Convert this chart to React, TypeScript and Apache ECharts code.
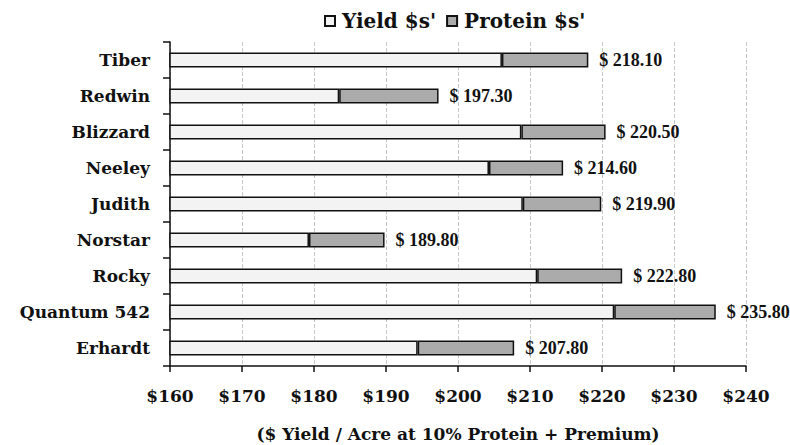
import React, { useEffect, useRef } from "react";
import * as echarts from "echarts";

const categories = ["Tiber", "Redwin", "Blizzard", "Neeley", "Judith", "Norstar", "Rocky", "Quantum 542", "Erhardt"];
const yieldValues = [206.1, 183.5, 208.8, 204.3, 209.0, 179.3, 211.0, 221.7, 194.4];
const totalValues = [218.1, 197.3, 220.5, 214.6, 219.9, 189.8, 222.8, 235.8, 207.8];
const xTicks = [160, 170, 180, 190, 200, 210, 220, 230, 240];

const FONT = "DejaVu Serif";
const LABEL_FONT = "Liberation Serif";

export default function App() {
  const ref = useRef<HTMLDivElement>(null);
  useEffect(() => {
    if (!ref.current) return;
    const chart = echarts.init(ref.current, null, { renderer: "svg" });
    const proteinValues = totalValues.map((t, i) => +(t - yieldValues[i]).toFixed(2));
    chart.setOption({
      animation: false,
      backgroundColor: "#fff",
      legend: {
        left: 319,
        top: 6,
        itemWidth: 10,
        itemHeight: 10,
        itemGap: 10,
        icon: "rect",
        textStyle: { fontFamily: FONT, fontWeight: "bold", fontSize: 20, color: "#111", padding: [0, 0, 0, 2] },
        data: ["Yield $s'", "Protein $s'"],
      },
      grid: { left: 170, right: 44, top: 42, bottom: 79, containLabel: false, outerBoundsMode: "none" },
      xAxis: {
        type: "value",
        min: xTicks[0],
        max: xTicks[xTicks.length - 1],
        interval: 10,
        name: "($ Yield / Acre at 10% Protein + Premium)",
        nameLocation: "middle",
        nameGap: 59,
        nameTextStyle: { fontFamily: FONT, fontWeight: "bold", fontSize: 17, color: "#111" },
        axisLine: { show: true, lineStyle: { color: "#111", width: 1.5 } },
        axisTick: { show: true, length: 6, lineStyle: { color: "#111", width: 1.5 } },
        axisLabel: {
          margin: 21,
          fontFamily: FONT,
          fontWeight: "bold",
          fontSize: 17,
          color: "#111",
          formatter: (v: number) => "$" + v,
        },
        splitLine: { show: true, lineStyle: { color: "#c8c8c8", type: "dashed", width: 1 } },
      },
      yAxis: {
        type: "category",
        inverse: true,
        data: categories,
        axisLine: { show: true, lineStyle: { color: "#111", width: 1.5 } },
        axisTick: { show: true, length: 7, lineStyle: { color: "#111", width: 1.5 } },
        axisLabel: { margin: 20, fontFamily: FONT, fontWeight: "bold", fontSize: 17, color: "#111" },
      },
      series: [
        {
          name: "Yield $s'",
          type: "bar",
          stack: "total",
          barWidth: 15,
          data: yieldValues,
          itemStyle: { color: "#f3f3f3", borderColor: "#111", borderWidth: 1.5 },
        },
        {
          name: "Protein $s'",
          type: "bar",
          stack: "total",
          barWidth: 15,
          data: proteinValues,
          itemStyle: { color: "#ababab", borderColor: "#111", borderWidth: 1.5 },
          label: {
            show: true,
            position: "right",
            distance: 11,
            fontFamily: LABEL_FONT,
            fontWeight: "bold",
            fontSize: 18,
            color: "#111",
            formatter: (p: any) => "$ " + totalValues[p.dataIndex].toFixed(2),
          },
        },
      ],
    });
    return () => chart.dispose();
  }, []);
  return <div ref={ref} style={{ width: 790, height: 445, position: "absolute", left: 0, top: 0 }} />;
}
